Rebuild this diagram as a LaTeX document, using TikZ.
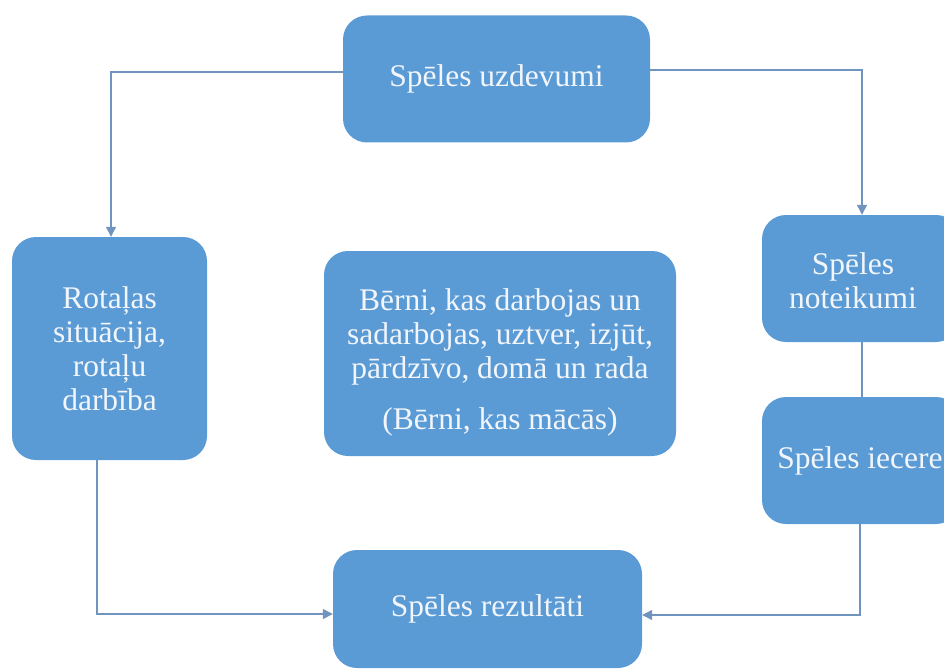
\documentclass[tikz,border=0pt]{standalone}
\usepackage{fontspec}
\setmainfont{Liberation Serif}
\usetikzlibrary{arrows.meta}
\definecolor{boxblue}{HTML}{5B9BD5}
\definecolor{linecol}{HTML}{7094BE}
\definecolor{txtcol}{HTML}{F2F6FB}
\begin{document}
\begin{tikzpicture}[x=1pt,y=-1pt,
  box/.style={draw=none,fill=boxblue,rounded corners=24pt,text=txtcol,align=center,
    font=\fontsize{31.5}{34}\selectfont,inner sep=0pt},
  txt/.style={text=txtcol,align=center,font=\fontsize{31.5}{34}\selectfont,inner sep=0pt},
  conn/.style={draw=linecol,line width=1.3pt},
  arr/.style={conn,-{Triangle[length=10pt,width=10pt]}}]
\useasboundingbox (0,0) rectangle (944,671);
\node[box,minimum width=307pt,minimum height=127pt] (top) at (496.5,79) {Spēles uzdevumi};
\node[box,minimum width=195pt,minimum height=223pt] (left) at (109.5,348.5) {Rotaļas\\situācija,\\rotaļu\\darbība};
\node[box,minimum width=352pt,minimum height=205pt] (mid) at (500,353.5) {};
\node[txt] (midtxt) at (500,362) {Bērni, kas darbojas un\\sadarbojas, uztver, izjūt,\\pārdzīvo, domā un rada\\[17pt](Bērni, kas mācās)};
\node[box,minimum width=198pt,minimum height=127pt] (rtop) at (861,278.5) {};
\node[txt] (rtoptxt) at (853,281) {Spēles\\noteikumi};
\node[box,minimum width=198pt,minimum height=127pt] (rmid) at (861,460.5) {};
\node[txt] (rmidtxt) at (860,460.5) {Spēles iecere};
\node[box,minimum width=309pt,minimum height=118pt] (bot) at (487.5,609) {Spēles rezultāti};
\coordinate (c1) at (111,72);
\coordinate (c2) at (862,70);
\coordinate (c3) at (97,614);
\coordinate (c4) at (860,615);
\draw[arr] (top.west |- c1) -| (c1 |- left.north);
\draw[arr] (top.east |- c2) -| (c2 |- rtop.north);
\draw[conn] (c2 |- rtop.south) -- (c2 |- rmid.north);
\draw[arr] (c4 |- rmid.south) |- (bot.east |- c4);
\draw[arr] (c3 |- left.south) |- (bot.west |- c3);
\end{tikzpicture}
\end{document}
